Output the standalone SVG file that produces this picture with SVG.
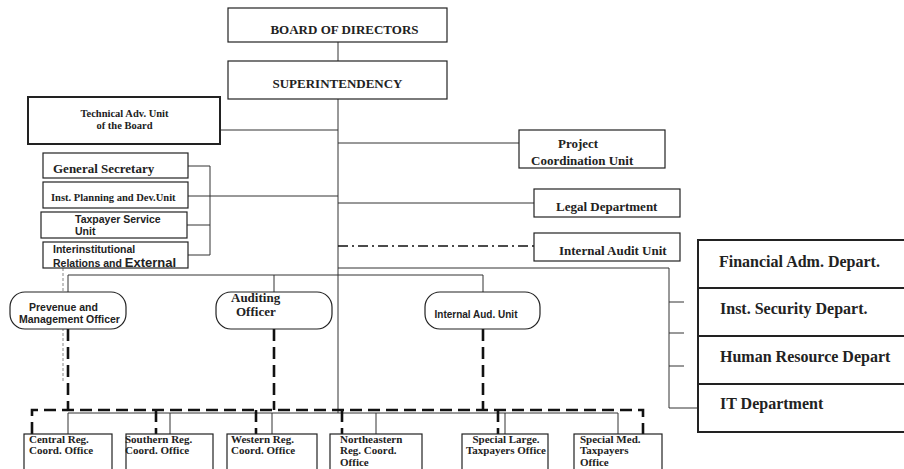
<svg xmlns="http://www.w3.org/2000/svg" width="904" height="469" viewBox="0 0 904 469">
<style>
.bx{fill:#fff;stroke:#222;stroke-width:1.2}
.bxt{fill:#fff;stroke:#222;stroke-width:2}
.ln{fill:none;stroke:#333;stroke-width:1}
.dsh{fill:none;stroke:#111;stroke-width:2.6;stroke-dasharray:12,6}
.dd{fill:none;stroke:#111;stroke-width:1.6;stroke-dasharray:10,4,2,4}
.thin{fill:none;stroke:#555;stroke-width:0.7;stroke-dasharray:3,2}
.s{font-family:"Liberation Serif","Times New Roman",serif;font-weight:bold;fill:#222}
.a{font-family:"Liberation Sans",Arial,sans-serif;font-weight:bold;fill:#222}
</style>
<rect width="904" height="469" fill="#fff"/>
<g id="connectors">
<path class="ln" d="M338 42V61M338 99V413"/>
<path class="ln" d="M220 130H338"/>
<path class="ln" d="M338 143H519"/>
<path class="ln" d="M338 203H534"/>
<path class="dd" d="M338 246H534"/>
<path class="ln" d="M338 268H669V408H698"/>
<path class="ln" d="M669 302H684M669 333H684M669 366H684"/>
<path class="ln" d="M188 166H210V255H188M188 196H338M187 225H210"/>
<path class="thin" d="M63 258V382"/>
<path class="ln" d="M68 292V275H483V292M274 275V292"/>
<path class="dsh" d="M68 329V410M274 329V410M483 329V410"/>
<path class="dsh" d="M32 434V410H643V434"/>
<path class="ln" d="M68 434V413H618V434M170 413V434M272 413V434M376 413V434M505 413V434"/>
<path class="dsh" d="M156 410V434M256 410V434M342 410V434M498 410V434"/>
</g>
<g id="board"><rect class="bx" x="228" y="8" width="219" height="34"/><text class="s" x="344.5" y="34" font-size="13" text-anchor="middle">BOARD OF DIRECTORS</text></g>
<g id="superintendency"><rect class="bx" x="228" y="61" width="219" height="38"/><text class="s" x="337.5" y="88" font-size="13" text-anchor="middle">SUPERINTENDENCY</text></g>
<g id="technical"><rect class="bxt" x="28" y="97" width="192" height="47"/><text class="s" font-size="10.5" text-anchor="middle"><tspan x="124.5" y="117">Technical Adv. Unit</tspan><tspan x="124.5" y="129">of  the Board</tspan></text></g>
<g id="project"><rect class="bx" x="519" y="130" width="146" height="38"/><text class="s" font-size="13"><tspan x="558" y="148">Project</tspan><tspan x="531" y="165">Coordination Unit</tspan></text></g>
<g id="legal"><rect class="bx" x="534" y="189" width="146" height="28"/><text class="s" x="556" y="211" font-size="13">Legal Department</text></g>
<g id="internal-audit-unit"><rect class="bx" x="534" y="233" width="146" height="28"/><text class="s" x="559" y="255" font-size="13">Internal Audit Unit</text></g>
<g id="general-secretary"><rect class="bx" x="43" y="153" width="145" height="25"/><text class="s" x="53" y="173" font-size="13">General Secretary</text></g>
<g id="inst-planning"><rect class="bx" x="43" y="182" width="145" height="26"/><text class="s" x="51" y="201" font-size="10.5">Inst. Planning and Dev.Unit</text></g>
<g id="taxpayer-service"><rect class="bx" x="41" y="212" width="146" height="26"/><text class="a" font-size="10.5"><tspan x="75" y="223">Taxpayer Service</tspan><tspan x="75" y="235">Unit</tspan></text></g>
<g id="interinstitutional"><rect class="bx" x="43" y="242" width="145" height="26"/><text class="a" font-size="10.5"><tspan x="53" y="253">Interinstitutional</tspan><tspan x="53" y="267">Relations and <tspan font-size="13">External</tspan></tspan></text></g>
<g id="prevenue"><rect class="bx" x="10" y="292" width="116" height="37" rx="15"/><text class="a" font-size="10.5"><tspan x="29" y="311">Prevenue and</tspan><tspan x="19" y="323">Management Officer</tspan></text></g>
<g id="auditing-officer"><rect class="bx" x="216" y="292" width="116" height="37" rx="15"/><text class="s" font-size="13"><tspan x="231" y="302">Auditing</tspan><tspan x="236" y="316">Officer</tspan></text></g>
<g id="internal-aud-unit"><rect class="bx" x="425" y="292" width="115" height="37" rx="15"/><text class="a" x="434.5" y="318" font-size="10">Internal Aud. Unit</text></g>
<g id="financial"><rect class="bxt" x="698" y="240" width="212" height="48"/><text class="s" x="719" y="267" font-size="16">Financial Adm. Depart.</text></g>
<g id="security"><rect class="bxt" x="698" y="288" width="212" height="48"/><text class="s" x="720" y="314" font-size="16">Inst. Security Depart.</text></g>
<g id="human-resource"><rect class="bxt" x="698" y="336" width="212" height="48"/><text class="s" x="720" y="362" font-size="16">Human Resource Depart</text></g>
<g id="it"><rect class="bxt" x="698" y="384" width="212" height="48"/><text class="s" x="720" y="409" font-size="16">IT Department</text></g>
<g id="central"><rect class="bx" x="24" y="434" width="88" height="50"/><text class="s" font-size="11"><tspan x="29" y="443">Central Reg.</tspan><tspan x="29" y="454">Coord. Office</tspan></text></g>
<g id="southern"><rect class="bx" x="126" y="434" width="87" height="50"/><text class="s" font-size="11"><tspan x="125" y="443">Southern Reg.</tspan><tspan x="125" y="454">Coord. Office</tspan></text></g>
<g id="western"><rect class="bx" x="227" y="434" width="90" height="50"/><text class="s" font-size="11"><tspan x="231" y="443">Western Reg.</tspan><tspan x="231" y="454">Coord. Office</tspan></text></g>
<g id="northeastern"><rect class="bx" x="330" y="434" width="92" height="50"/><text class="s" font-size="11"><tspan x="340" y="443">Northeastern</tspan><tspan x="340" y="454">Reg. Coord.</tspan><tspan x="340" y="466">Office</tspan></text></g>
<g id="special-large"><rect class="bx" x="462" y="434" width="86" height="50"/><text class="s" font-size="11" text-anchor="middle"><tspan x="506" y="443">Special Large.</tspan><tspan x="506" y="454">Taxpayers Office</tspan></text></g>
<g id="special-med"><rect class="bx" x="574" y="434" width="88" height="50"/><text class="s" font-size="11"><tspan x="580" y="443">Special Med.</tspan><tspan x="580" y="454">Taxpayers</tspan><tspan x="580" y="466">Office</tspan></text></g>
</svg>
